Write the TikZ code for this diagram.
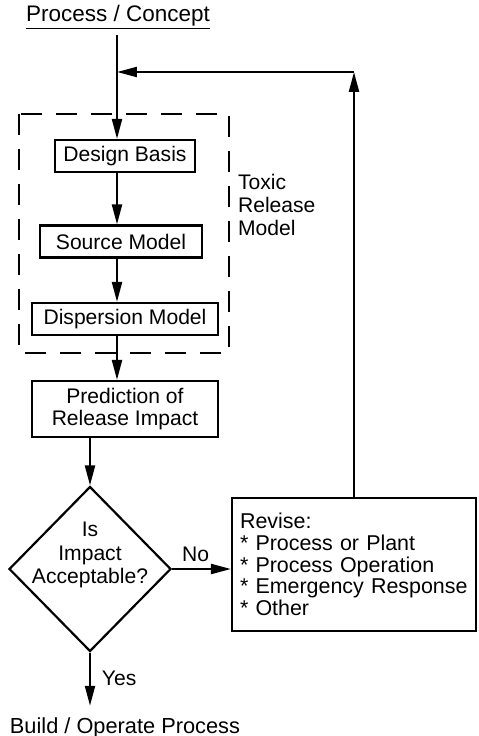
\documentclass[tikz,border=0pt]{standalone}
\usepackage{fontspec}
\setmainfont{Liberation Sans}
\usetikzlibrary{arrows.meta,shapes.geometric}

\begin{document}
\begin{tikzpicture}[x=0.02cm,y=-0.02cm,line width=1.25pt,
  every node/.style={font=\fontsize{12}{12.6}\selectfont},
  stage/.style={draw,rectangle,inner sep=0pt,minimum height=0.64cm,align=center},
  flow/.style={-{Triangle[length=4mm,width=2mm]}},
  decision/.style={draw,diamond,inner sep=0pt,minimum width=3.24cm,minimum height=3.3cm},
  modelbox/.style={dash pattern=on 0.42cm off 0.28cm}]
\useasboundingbox (0,0) rectangle (478,736);
% inputs and outputs
\node[inner sep=0pt,font=\fontsize{12.8}{13}\selectfont] (concept) at (118,17) {\underline{Process / Concept}};
\node[inner sep=0pt,font=\fontsize{12.4}{13}\selectfont] (build) at (125,728) {Build / Operate Process};
\coordinate (merge) at (117,72);
% toxic release model
\node[stage,minimum width=2.8cm] (design) at (125,156) {Design Basis};
\node[stage,minimum width=3.24cm] (source) at (121,241.5) {Source Model};
\node[stage,minimum width=3.72cm] (disp) at (125,319) {Dispersion Model};
\draw[modelbox] (19,114) rectangle (229,353);
\node[anchor=west,align=left,inner sep=0pt,font=\fontsize{12}{13}\selectfont] (trm) at (237,205) {Toxic\\Release\\Model};
% impact and decision
\node[stage,minimum width=3.72cm,minimum height=1.12cm] (impact) at (125,409) {Prediction of\\Release Impact};
\node[decision] (accept) at (90,569) {};
\node[align=center,inner sep=0pt,font=\fontsize{12}{13.6}\selectfont] (askq) at (90,555) {Is\\Impact\\Acceptable?};
\node[draw,inner xsep=0.16cm,text width=4.56cm,minimum height=2.66cm,align=left,font=\fontsize{12.2}{12.4}\selectfont] (revise) at (354,564.5) {Revise:\\{*} Process or Plant\\{*} Process Operation\\{*} Emergency Response\\{*} Other};
% connectors
\draw[flow,shorten <=0.1cm] (concept.south -| merge) -- (design.north -| merge);
\draw[flow] (design.south -| merge) -- (source.north -| merge);
\draw[flow] (source.south -| merge) -- (disp.north -| merge);
\draw[flow] (disp.south -| merge) -- (impact.north -| merge);
\draw[flow] (impact.south -| accept.north) -- (accept.north);
\draw[flow] (accept.east) -- node[above,pos=0.4] (no) {No} (accept.east -| revise.west);
\draw[flow,shorten >=0.22cm] (accept.south) -- node[right=0.1cm,pos=0.4] (yes) {Yes} (accept.south |- build.north);
% feedback loop
\coordinate (turn) at (revise.north |- merge);
\draw[flow] (revise.north) -- (turn);
\draw[flow] (turn) -- (merge);
\end{tikzpicture}
\end{document}
